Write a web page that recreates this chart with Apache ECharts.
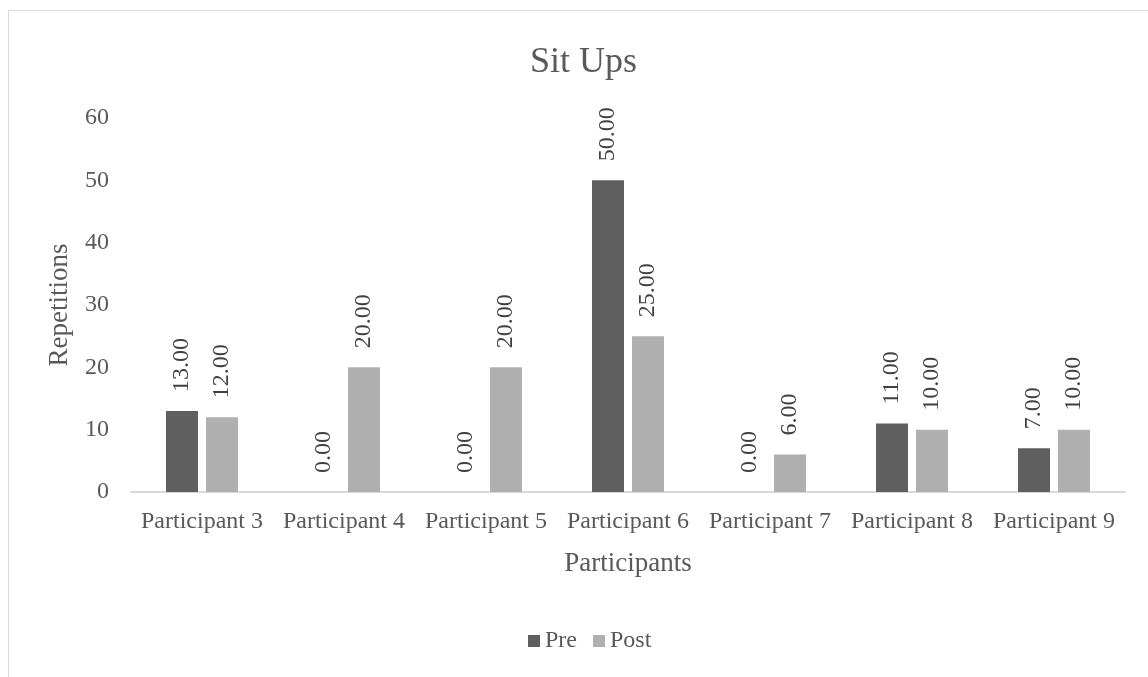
<!DOCTYPE html>
<html>
<head>
<meta charset="utf-8">
<script src="https://cdn.jsdelivr.net/npm/echarts@6/dist/echarts.min.js"></script>
<style>
  html, body { margin: 0; padding: 0; background: #fff; }
  #chart { width: 1148px; height: 677px; }
  #frame { position: absolute; left: 8px; top: 10px; width: 1150px; height: 680px; border: 1px solid #d9d9d9; pointer-events: none; }
</style>
</head>
<body>
<div id="chart"></div>
<div id="frame"></div>
<script>
const categories = ['Participant 3', 'Participant 4', 'Participant 5', 'Participant 6', 'Participant 7', 'Participant 8', 'Participant 9']
const preValues = [13, 0, 0, 50, 0, 11, 7]
const postValues = [12, 20, 20, 25, 6, 10, 10]
const yTicks = [0, 10, 20, 30, 40, 50, 60]

const serif = '"Liberation Serif", "DejaVu Serif", serif'
const chart = echarts.init(document.getElementById('chart'))

const barLabel = {
  show: true,
  position: 'top',
  rotate: 90,
  align: 'left',
  verticalAlign: 'middle',
  distance: 19,
  fontFamily: serif,
  fontSize: 24,
  color: '#404040',
  formatter: p => p.value.toFixed(2)
}

chart.setOption({
  animation: false,
  title: {
    text: 'Sit Ups',
    left: 525,
    top: 40,
    textStyle: { fontFamily: serif, fontSize: 36, fontWeight: 'normal', color: '#595959' }
  },
  legend: {
    data: ['Pre', 'Post'],
    top: 624,
    left: 523,
    itemWidth: 12,
    itemHeight: 12,
    itemGap: 16,
    icon: 'rect',
    textStyle: { fontFamily: serif, fontSize: 24, color: '#595959', padding: 0 }
  },
  grid: { left: 131, right: 23, top: 118, bottom: 185 },
  xAxis: {
    type: 'category',
    data: categories,
    name: 'Participants',
    nameLocation: 'middle',
    nameGap: 58,
    nameTextStyle: { fontFamily: serif, fontSize: 27, color: '#595959' },
    axisLine: { lineStyle: { color: '#d9d9d9', width: 2 } },
    axisTick: { show: false },
    axisLabel: { interval: 0, hideOverlap: false, fontFamily: serif, fontSize: 24, color: '#595959', margin: 18 }
  },
  yAxis: {
    type: 'value',
    min: yTicks[0],
    max: yTicks[yTicks.length - 1],
    interval: 10,
    name: 'Repetitions',
    nameLocation: 'middle',
    nameGap: 58,
    nameTextStyle: { fontFamily: serif, fontSize: 27, color: '#595959' },
    axisLine: { show: false },
    axisTick: { show: false },
    splitLine: { show: false },
    axisLabel: { fontFamily: serif, fontSize: 24, color: '#595959', margin: 22 }
  },
  series: [
    {
      name: 'Pre',
      type: 'bar',
      data: preValues,
      barWidth: 32,
      barGap: '25%',
      itemStyle: { color: '#5f5f5f' },
      label: barLabel
    },
    {
      name: 'Post',
      type: 'bar',
      data: postValues,
      barWidth: 32,
      barGap: '25%',
      itemStyle: { color: '#b0b0b0' },
      label: barLabel
    }
  ]
})
</script>
</body>
</html>
